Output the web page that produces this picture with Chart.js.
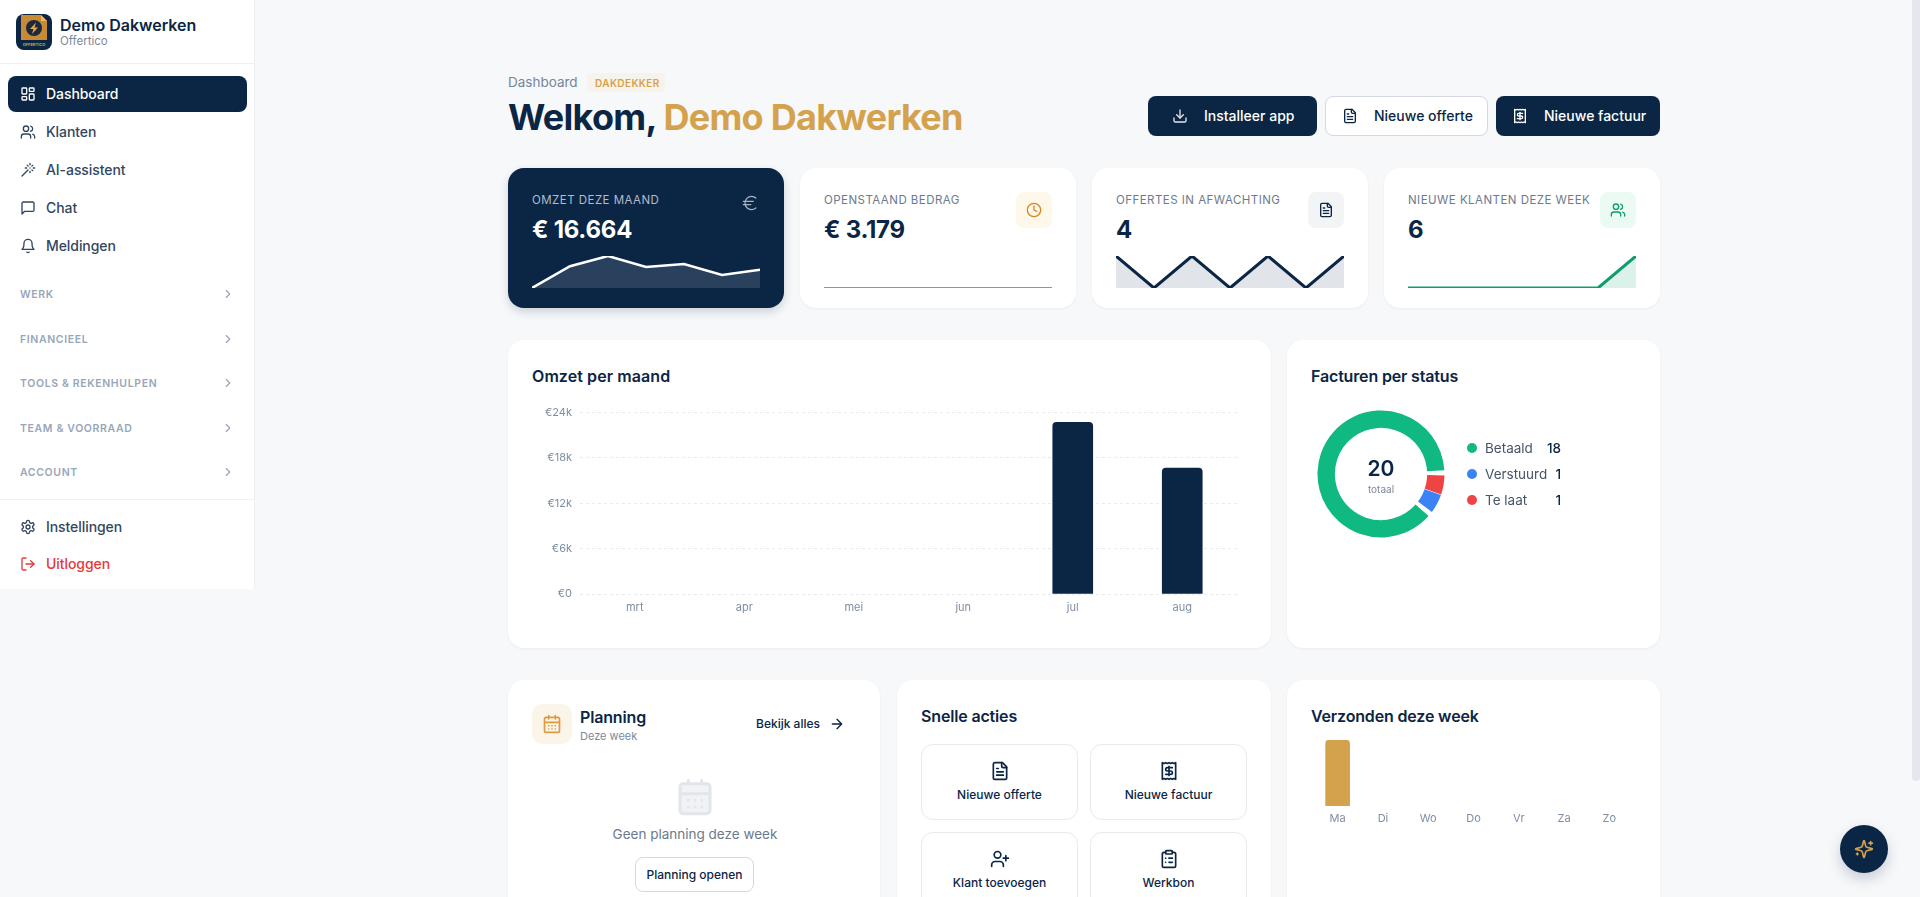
<!DOCTYPE html>
<html lang="nl">
<head>
<meta charset="utf-8">
<title>Dashboard</title>
<script src="https://cdn.jsdelivr.net/npm/chart.js@4/dist/chart.umd.js"></script>
<style>
html, body { margin: 0; height: 100%; overflow: hidden; background: #f7f8fa; font-family: Inter, sans-serif; color: #0b2545; }
#page { position: relative; width: 1920px; height: 897px; overflow: hidden; }
.box { position: absolute; box-sizing: border-box; }
.card { background: #fff; border-radius: 16px; box-shadow: 0 1px 3px rgba(15,23,42,.05); }
.t { position: absolute; white-space: nowrap; transform: translateY(-50%); line-height: 1; }
.c { transform: translate(-50%,-50%); }
.i { position: absolute; transform: translate(-50%,-50%); fill: none; stroke: currentColor; stroke-width: 2; stroke-linecap: round; stroke-linejoin: round; }
canvas { position: absolute; display: block; }
.nav { font-size: 14px; font-weight: 500; letter-spacing: -.005em; color: #33465f; }
.sec { font-size: 10.5px; font-weight: 600; letter-spacing: .06em; color: #97a6b9; }
.lab { font-size: 11.5px; letter-spacing: .04em; color: #6c7a8c; }
.val { font-size: 24px; font-weight: 700; letter-spacing: -.01em; }
.h2 { font-size: 16px; font-weight: 600; letter-spacing: -.01em; }
.btn { font-size: 14px; font-weight: 500; }
.tile { background: #fff; border: 1px solid #e8eaee; border-radius: 12px; }
.tl { font-size: 12px; font-weight: 500; }
</style>
</head>
<body>
<svg width="0" height="0" style="position:absolute">
  <symbol id="dash" viewBox="0 0 24 24"><rect x="3" y="3" width="7" height="9" rx="1"/><rect x="14" y="3" width="7" height="5" rx="1"/><rect x="14" y="12" width="7" height="9" rx="1"/><rect x="3" y="16" width="7" height="5" rx="1"/></symbol>
  <symbol id="users" viewBox="0 0 24 24"><path d="M16 21v-2a4 4 0 0 0-4-4H6a4 4 0 0 0-4 4v2"/><circle cx="9" cy="7" r="4"/><path d="M22 21v-2a4 4 0 0 0-3-3.87"/><path d="M16 3.13a4 4 0 0 1 0 7.75"/></symbol>
  <symbol id="wand" viewBox="0 0 24 24"><path d="M15 4V2M15 16v-2M8 9h2M20 9h2M17.8 11.8 19 13M15 9h.01M17.8 6.2 19 5M3 21l9-9M12.2 6.2 11 5"/></symbol>
  <symbol id="chat" viewBox="0 0 24 24"><path d="M21 15a2 2 0 0 1-2 2H7l-4 4V5a2 2 0 0 1 2-2h14a2 2 0 0 1 2 2z"/></symbol>
  <symbol id="bell" viewBox="0 0 24 24"><path d="M6 8a6 6 0 0 1 12 0c0 7 3 9 3 9H3s3-2 3-9"/><path d="M10.3 21a1.94 1.94 0 0 0 3.4 0"/></symbol>
  <symbol id="chev" viewBox="0 0 24 24"><path d="m9 18 6-6-6-6"/></symbol>
  <symbol id="gear" viewBox="0 0 24 24"><path d="M12.22 2h-.44a2 2 0 0 0-2 2v.18a2 2 0 0 1-1 1.73l-.43.25a2 2 0 0 1-2 0l-.15-.08a2 2 0 0 0-2.73.73l-.22.38a2 2 0 0 0 .73 2.73l.15.1a2 2 0 0 1 1 1.72v.51a2 2 0 0 1-1 1.74l-.15.09a2 2 0 0 0-.73 2.73l.22.38a2 2 0 0 0 2.73.73l.15-.08a2 2 0 0 1 2 0l.43.25a2 2 0 0 1 1 1.73V20a2 2 0 0 0 2 2h.44a2 2 0 0 0 2-2v-.18a2 2 0 0 1 1-1.73l.43-.25a2 2 0 0 1 2 0l.15.08a2 2 0 0 0 2.73-.73l.22-.39a2 2 0 0 0-.73-2.73l-.15-.08a2 2 0 0 1-1-1.74v-.5a2 2 0 0 1 1-1.74l.15-.09a2 2 0 0 0 .73-2.73l-.22-.38a2 2 0 0 0-2.73-.73l-.15.08a2 2 0 0 1-2 0l-.43-.25a2 2 0 0 1-1-1.73V4a2 2 0 0 0-2-2z"/><circle cx="12" cy="12" r="3"/></symbol>
  <symbol id="out" viewBox="0 0 24 24"><path d="M9 21H5a2 2 0 0 1-2-2V5a2 2 0 0 1 2-2h4"/><path d="m16 17 5-5-5-5"/><path d="M21 12H9"/></symbol>
  <symbol id="down" viewBox="0 0 24 24"><path d="M21 15v4a2 2 0 0 1-2 2H5a2 2 0 0 1-2-2v-4"/><path d="m7 10 5 5 5-5"/><path d="M12 15V3"/></symbol>
  <symbol id="file" viewBox="0 0 24 24"><path d="M15 2H6a2 2 0 0 0-2 2v16a2 2 0 0 0 2 2h12a2 2 0 0 0 2-2V7Z"/><path d="M14 2v4a2 2 0 0 0 2 2h4"/><path d="M10 9H8M16 13H8M16 17H8"/></symbol>
  <symbol id="rcpt" viewBox="0 0 24 24"><path d="M4 2v20l2-1 2 1 2-1 2 1 2-1 2 1 2-1 2 1V2l-2 1-2-1-2 1-2-1-2 1-2-1-2 1Z"/><path d="M16 8h-6a2 2 0 1 0 0 4h4a2 2 0 1 1 0 4H8"/><path d="M12 17.5v-11"/></symbol>
  <symbol id="euro" viewBox="0 0 24 24"><path d="M4 10h12M4 14h9M19 6a7.7 7.7 0 0 0-5.2-2A7.9 7.9 0 0 0 6 12c0 4.4 3.5 8 7.8 8 2 0 3.8-.8 5.2-2"/></symbol>
  <symbol id="clock" viewBox="0 0 24 24"><circle cx="12" cy="12" r="10"/><path d="M12 6v6l4 2"/></symbol>
  <symbol id="cal" viewBox="0 0 24 24"><path d="M8 2v4M16 2v4"/><rect x="3" y="4" width="18" height="18" rx="2"/><path d="M3 10h18M8 14h.01M12 14h.01M16 14h.01M8 18h.01M12 18h.01M16 18h.01"/></symbol>
  <symbol id="arrow" viewBox="0 0 24 24"><path d="M5 12h14M12 5l7 7-7 7"/></symbol>
  <symbol id="uplus" viewBox="0 0 24 24"><path d="M16 21v-2a4 4 0 0 0-4-4H6a4 4 0 0 0-4 4v2"/><circle cx="9" cy="7" r="4"/><path d="M19 8v6M22 11h-6"/></symbol>
  <symbol id="clip" viewBox="0 0 24 24"><rect x="8" y="2" width="8" height="4" rx="1"/><path d="M16 4h2a2 2 0 0 1 2 2v14a2 2 0 0 1-2 2H6a2 2 0 0 1-2-2V6a2 2 0 0 1 2-2h2"/><path d="M12 11h4M12 16h4M8 11h.01M8 16h.01"/></symbol>
  <symbol id="spark" viewBox="0 0 24 24"><path d="M9.937 15.5A2 2 0 0 0 8.5 14.063l-6.135-1.582a.5.5 0 0 1 0-.962L8.5 9.936A2 2 0 0 0 9.937 8.5l1.582-6.135a.5.5 0 0 1 .963 0L14.063 8.5A2 2 0 0 0 15.5 9.937l6.135 1.581a.5.5 0 0 1 0 .964L15.5 14.063a2 2 0 0 0-1.437 1.437l-1.582 6.135a.5.5 0 0 1-.963 0z"/><path d="M20 3v4M22 5h-4M4 17v2M5 18H3"/></symbol>
</svg>

<div id="page">
  <!-- sidebar -->
  <div class="box" style="left:0;top:0;width:255px;height:589px;background:#fff;border-right:1px solid #eef0f3"></div>
  <div class="box" style="left:0;top:63px;width:255px;height:1px;background:#eef0f3"></div>
  <div class="box" style="left:0;top:499px;width:255px;height:1px;background:#eef0f3"></div>
  <svg style="position:absolute;left:16px;top:14px" width="36" height="36" viewBox="0 0 36 36">
    <rect width="36" height="36" rx="8" fill="#0b2545"/>
    <path d="M5 1h20l6 6v19H5z" fill="#c98a35"/>
    <path d="M25 1l6 6h-6z" fill="#e5b768"/>
    <circle cx="18" cy="14" r="8" fill="#1b2a3f"/>
    <path d="M20 8.500 14 15h3.500l-1.500 5 6-6.500h-3.500z" fill="#e0a94f"/>
    <text x="18" y="32" text-anchor="middle" font-size="4" font-weight="700" fill="#d4a24c" font-family="Inter">OFFERTICO</text>
  </svg>
  <div class="t" style="left:60px;top:25px;font-size:16px;font-weight:600">Demo Dakwerken</div>
  <div class="t" style="left:60px;top:42px;font-size:11.5px;color:#7c899b">Offertico</div>

  <div class="box" style="left:8px;top:76px;width:239px;height:36px;border-radius:8px;background:#0b2545"></div>
  <svg class="i" width="16" height="16" style="left:28px;top:94px;color:#fff"><use href="#dash"/></svg>
  <div class="t nav" style="left:46px;top:94px;color:#fff">Dashboard</div>
  <svg class="i" width="16" height="16" style="left:28px;top:132px;color:#33465f"><use href="#users"/></svg>
  <div class="t nav" style="left:46px;top:132px">Klanten</div>
  <svg class="i" width="16" height="16" style="left:28px;top:170px;color:#33465f"><use href="#wand"/></svg>
  <div class="t nav" style="left:46px;top:170px">AI-assistent</div>
  <svg class="i" width="16" height="16" style="left:28px;top:208px;color:#33465f"><use href="#chat"/></svg>
  <div class="t nav" style="left:46px;top:208px">Chat</div>
  <svg class="i" width="16" height="16" style="left:28px;top:246px;color:#33465f"><use href="#bell"/></svg>
  <div class="t nav" style="left:46px;top:246px">Meldingen</div>

  <div class="t sec" style="left:20px;top:295px">WERK</div>
  <svg class="i" width="14" height="14" style="left:228px;top:294px;color:#97a6b9"><use href="#chev"/></svg>
  <div class="t sec" style="left:20px;top:340px">FINANCIEEL</div>
  <svg class="i" width="14" height="14" style="left:228px;top:339px;color:#97a6b9"><use href="#chev"/></svg>
  <div class="t sec" style="left:20px;top:384px">TOOLS &amp; REKENHULPEN</div>
  <svg class="i" width="14" height="14" style="left:228px;top:383px;color:#97a6b9"><use href="#chev"/></svg>
  <div class="t sec" style="left:20px;top:429px">TEAM &amp; VOORRAAD</div>
  <svg class="i" width="14" height="14" style="left:228px;top:428px;color:#97a6b9"><use href="#chev"/></svg>
  <div class="t sec" style="left:20px;top:473px">ACCOUNT</div>
  <svg class="i" width="14" height="14" style="left:228px;top:472px;color:#97a6b9"><use href="#chev"/></svg>

  <svg class="i" width="16" height="16" style="left:28px;top:527px;color:#33465f"><use href="#gear"/></svg>
  <div class="t nav" style="left:46px;top:527px">Instellingen</div>
  <svg class="i" width="16" height="16" style="left:28px;top:564px;color:#e5393a"><use href="#out"/></svg>
  <div class="t nav" style="left:46px;top:564px;color:#e5393a">Uitloggen</div>

  <!-- header -->
  <div class="t" style="left:508px;top:83px;font-size:13.5px;color:#76859a">Dashboard</div>
  <div class="box" style="left:587px;top:73px;width:78px;height:19px;border-radius:4px;background:#f8f3ea"></div>
  <div class="t" style="left:595px;top:83px;font-size:10px;font-weight:600;letter-spacing:.04em;color:#d4a24c">DAKDEKKER</div>
  <div class="t" style="left:508px;top:117px;font-size:36px;font-weight:700;letter-spacing:-.02em">Welkom, <span style="color:#d4a24c">Demo Dakwerken</span></div>

  <div class="box" style="left:1148px;top:96px;width:169px;height:40px;border-radius:8px;background:#0b2545"></div>
  <svg class="i" width="16" height="16" style="left:1180px;top:116px;color:#e2e6eb"><use href="#down"/></svg>
  <div class="t btn" style="left:1204px;top:116px;color:#fff">Installeer app</div>
  <div class="box" style="left:1325px;top:96px;width:163px;height:40px;border-radius:8px;background:#fff;border:1px solid #d5d8e2"></div>
  <svg class="i" width="16" height="16" style="left:1350px;top:116px"><use href="#file"/></svg>
  <div class="t btn" style="left:1374px;top:116px">Nieuwe offerte</div>
  <div class="box" style="left:1496px;top:96px;width:164px;height:40px;border-radius:8px;background:#0b2545"></div>
  <svg class="i" width="16" height="16" style="left:1520px;top:116px;color:#fff"><use href="#rcpt"/></svg>
  <div class="t btn" style="left:1544px;top:116px;color:#fff">Nieuwe factuur</div>

  <!-- stat cards -->
  <div class="box card" style="left:508px;top:168px;width:276px;height:140px;background:#0b2545;box-shadow:0 4px 10px rgba(11,37,69,.18)"></div>
  <div class="t lab" style="left:532px;top:201px;color:#b3bcc9">OMZET DEZE MAAND</div>
  <div class="t val" style="left:532px;top:230px;color:#fff">€ 16.664</div>
  <svg class="i" width="20" height="20" style="left:750px;top:203px;color:#aab4c1;stroke-width:1.5"><use href="#euro"/></svg>
  <canvas id="spark1" width="228" height="32" style="left:532px;top:256px"></canvas>

  <div class="box card" style="left:800px;top:168px;width:276px;height:140px"></div>
  <div class="t lab" style="left:824px;top:201px">OPENSTAAND BEDRAG</div>
  <div class="t val" style="left:824px;top:230px">€ 3.179</div>
  <div class="box" style="left:1016px;top:192px;width:36px;height:36px;border-radius:8px;background:#fef8ea"></div>
  <svg class="i" width="16" height="16" style="left:1034px;top:210px;color:#d9861f"><use href="#clock"/></svg>
  <canvas id="spark2" width="228" height="32" style="left:824px;top:256px"></canvas>

  <div class="box card" style="left:1092px;top:168px;width:276px;height:140px"></div>
  <div class="t lab" style="left:1116px;top:201px">OFFERTES IN AFWACHTING</div>
  <div class="t val" style="left:1116px;top:230px">4</div>
  <div class="box" style="left:1308px;top:192px;width:36px;height:36px;border-radius:8px;background:#f3f4f6"></div>
  <svg class="i" width="16" height="16" style="left:1326px;top:210px"><use href="#file"/></svg>
  <canvas id="spark3" width="228" height="32" style="left:1116px;top:256px"></canvas>

  <div class="box card" style="left:1384px;top:168px;width:276px;height:140px"></div>
  <div class="t lab" style="left:1408px;top:201px">NIEUWE KLANTEN DEZE WEEK</div>
  <div class="t val" style="left:1408px;top:230px">6</div>
  <div class="box" style="left:1600px;top:192px;width:36px;height:36px;border-radius:8px;background:#ecfaf4"></div>
  <svg class="i" width="16" height="16" style="left:1618px;top:210px;color:#0f9d6e"><use href="#users"/></svg>
  <canvas id="spark4" width="228" height="32" style="left:1408px;top:256px"></canvas>

  <!-- middle row -->
  <div class="box card" style="left:508px;top:340px;width:763px;height:308px"></div>
  <div class="t h2" style="left:532px;top:376px;letter-spacing:.005em">Omzet per maand</div>
  <canvas id="omzetChart" width="705" height="220" style="left:532px;top:398px"></canvas>

  <div class="box card" style="left:1287px;top:340px;width:373px;height:308px"></div>
  <div class="t h2" style="left:1311px;top:376px">Facturen per status</div>
  <canvas id="statusChart" width="140" height="140" style="left:1311px;top:404px"></canvas>
  <div class="t c" style="left:1381px;top:468px;font-size:21px;font-weight:600">20</div>
  <div class="t c" style="left:1381px;top:489px;font-size:10px;color:#7c899b">totaal</div>
  <div id="statusLegend"></div>

  <!-- bottom row -->
  <div class="box card" style="left:508px;top:680px;width:372px;height:300px"></div>
  <div class="box" style="left:532px;top:704px;width:40px;height:40px;border-radius:10px;background:#fbf5e9"></div>
  <svg class="i" width="20" height="20" style="left:552px;top:724px;color:#e09a3e"><use href="#cal"/></svg>
  <div class="t h2" style="left:580px;top:717px">Planning</div>
  <div class="t" style="left:580px;top:736px;font-size:11px;color:#7c899b">Deze week</div>
  <div class="t" style="left:756px;top:724px;font-size:12px;font-weight:500">Bekijk alles</div>
  <svg class="i" width="16" height="16" style="left:837px;top:724px"><use href="#arrow"/></svg>
  <svg class="i" width="40" height="40" style="left:695px;top:797px;color:#e2e5ea;fill:#f1f2f5;stroke-width:1.8"><use href="#cal"/></svg>
  <div class="t c" style="left:695px;top:835px;font-size:13.5px;color:#6b7a8d">Geen planning deze week</div>
  <div class="box" style="left:635px;top:857px;width:119px;height:35px;border-radius:8px;background:#fff;border:1px solid #d5d8e2"></div>
  <div class="t c tl" style="left:694.5px;top:874.5px">Planning openen</div>

  <div class="box card" style="left:897px;top:680px;width:374px;height:300px"></div>
  <div class="t h2" style="left:921px;top:716px">Snelle acties</div>
  <div class="box tile" style="left:921px;top:744px;width:157px;height:76px"></div>
  <svg class="i" width="20" height="20" style="left:999.5px;top:771px"><use href="#file"/></svg>
  <div class="t c tl" style="left:999.5px;top:795px">Nieuwe offerte</div>
  <div class="box tile" style="left:1090px;top:744px;width:157px;height:76px"></div>
  <svg class="i" width="20" height="20" style="left:1168.5px;top:771px"><use href="#rcpt"/></svg>
  <div class="t c tl" style="left:1168.5px;top:795px">Nieuwe factuur</div>
  <div class="box tile" style="left:921px;top:832px;width:157px;height:76px"></div>
  <svg class="i" width="20" height="20" style="left:999.5px;top:859px"><use href="#uplus"/></svg>
  <div class="t c tl" style="left:999.5px;top:883px">Klant toevoegen</div>
  <div class="box tile" style="left:1090px;top:832px;width:157px;height:76px"></div>
  <svg class="i" width="20" height="20" style="left:1168.5px;top:859px"><use href="#clip"/></svg>
  <div class="t c tl" style="left:1168.5px;top:883px">Werkbon</div>

  <div class="box card" style="left:1287px;top:680px;width:373px;height:300px"></div>
  <div class="t h2" style="left:1311px;top:716px">Verzonden deze week</div>
  <canvas id="weekChart" width="317" height="90" style="left:1315px;top:740px"></canvas>

  <!-- scrollbar and chat button -->
  <div class="box" style="left:1912px;top:0;width:8px;height:781px;border-radius:0 0 4px 4px;background:#e4e7eb"></div>
  <div class="box" style="left:1840px;top:825px;width:48px;height:48px;border-radius:50%;background:#0b2545;box-shadow:0 6px 14px rgba(11,37,69,.2)"></div>
  <svg class="i" width="20" height="20" style="left:1864px;top:849px;color:#d4a24c"><use href="#spark"/></svg>
</div>

<script>
var navy = '#0b2545';
var gold = '#d4a24c';

// sparklines in the stat cards
var sparkOmzet = [0, 68, 100, 66, 75, 41, 57];
var sparkOpenstaand = [0, 0, 0, 0, 0, 0, 0];
var sparkOffertes = [1, 0, 1, 0, 1, 0, 1];
var sparkKlanten = [0, 0, 0, 0, 0, 0, 6];

// omzet per maand
var omzetMonths = ['mrt', 'apr', 'mei', 'jun', 'jul', 'aug'];
var omzetValues = [0, 0, 0, 0, 22700, 16664];
var omzetTicks = [0, 6000, 12000, 18000, 24000];

// facturen per status
var statusLabels = ['Betaald', 'Verstuurd', 'Te laat'];
var statusValues = [18, 1, 1];
var statusColors = ['#10b981', '#3b82f6', '#ef4444'];

// verzonden deze week
var weekDays = ['Ma', 'Di', 'Wo', 'Do', 'Vr', 'Za', 'Zo'];
var weekValues = [1, 0, 0, 0, 0, 0, 0];

Chart.defaults.font.family = 'Inter, sans-serif';
Chart.defaults.animation = false;
Chart.defaults.responsive = false;
Chart.defaults.plugins.legend.display = false;
Chart.defaults.plugins.tooltip.enabled = false;

// rounded bars leave a stub at 0, so empty months go in as null
function noZero(values) {
    return values.map(function (v) { return v === 0 ? null : v; });
}

function spark(id, values, line, fill, width) {
    new Chart(document.getElementById(id), {
        type: 'line',
        data: {
            labels: values.map(function (v, i) { return i; }),
            datasets: [{
                data: values,
                borderColor: line,
                backgroundColor: fill,
                borderWidth: width,
                fill: 'origin',
                tension: 0,
                pointRadius: 0
            }]
        },
        options: {
            layout: { padding: 0 },
            scales: {
                x: { display: false },
                y: { display: false, min: 0, max: Math.max.apply(null, values) || 1 }
            }
        }
    });
}

spark('spark1', sparkOmzet, '#ffffff', 'rgba(255,255,255,.13)', 2.5);
spark('spark2', sparkOpenstaand, '#d9861f', 'rgba(217,134,31,.12)', 2);
spark('spark3', sparkOffertes, navy, 'rgba(11,37,69,.12)', 3);
spark('spark4', sparkKlanten, '#0f9d6e', 'rgba(15,157,110,.14)', 3);

new Chart(document.getElementById('omzetChart'), {
    type: 'bar',
    data: {
        labels: omzetMonths,
        datasets: [{ data: noZero(omzetValues), backgroundColor: navy, barThickness: 40, borderRadius: { topLeft: 4, topRight: 4 }, borderSkipped: 'bottom' }]
    },
    options: {
        layout: { padding: { top: 2 } },
        scales: {
            x: {
                grid: { display: false, drawTicks: false },
                border: { display: false },
                afterFit: function (s) { s.height = 24; },
                ticks: { color: '#7f8ea3', font: { size: 11 }, padding: 7, maxRotation: 0 }
            },
            y: {
                min: omzetTicks[0],
                max: omzetTicks[omzetTicks.length - 1],
                afterFit: function (s) { s.width = 48; },
                afterBuildTicks: function (s) { s.ticks = omzetTicks.map(function (v) { return { value: v }; }); },
                border: { display: false, dash: [3, 3] },
                grid: { color: '#e8eaee', drawTicks: false },
                ticks: {
                    color: '#7f8ea3',
                    font: { size: 11 },
                    padding: 8,
                    callback: function (v) { return v === 0 ? '€0' : '€' + v / 1000 + 'k'; }
                }
            }
        }
    }
});

new Chart(document.getElementById('statusChart'), {
    type: 'doughnut',
    data: {
        labels: statusLabels.slice().reverse(),
        datasets: [{
            data: statusValues.slice().reverse(),
            backgroundColor: statusColors.slice().reverse(),
            borderWidth: 0,
            spacing: 3
        }]
    },
    options: { rotation: 91, radius: 62, cutout: '72%', layout: { padding: 0 } }
});

new Chart(document.getElementById('weekChart'), {
    type: 'bar',
    data: {
        labels: weekDays,
        datasets: [{ data: noZero(weekValues), backgroundColor: gold, barThickness: 24, borderRadius: { topLeft: 4, topRight: 4 }, borderSkipped: 'bottom' }]
    },
    options: {
        scales: {
            x: {
                grid: { display: false, drawTicks: false },
                border: { display: false },
                afterFit: function (s) { s.height = 24; },
                ticks: { color: '#7f8ea3', font: { size: 11 }, padding: 6, maxRotation: 0 }
            },
            y: { display: false, min: 0, max: 1 }
        }
    }
});

// legend next to the donut
var legend = document.getElementById('statusLegend');
var legendTop = [448, 474, 500];
statusLabels.forEach(function (label, i) {
    legend.insertAdjacentHTML('beforeend',
        '<div class="box" style="left:1467px;top:' + (legendTop[i] - 5) + 'px;width:10px;height:10px;border-radius:50%;background:' + statusColors[i] + '"></div>' +
        '<div class="t" style="left:1485px;top:' + (legendTop[i] + 1) + 'px;font-size:13.5px;color:#475569">' + label + '</div>' +
        '<div class="t" style="right:' + (1920 - 1561) + 'px;top:' + (legendTop[i] + 1) + 'px;font-size:13.5px;font-weight:500">' + statusValues[i] + '</div>');
});
</script>
</body>
</html>
